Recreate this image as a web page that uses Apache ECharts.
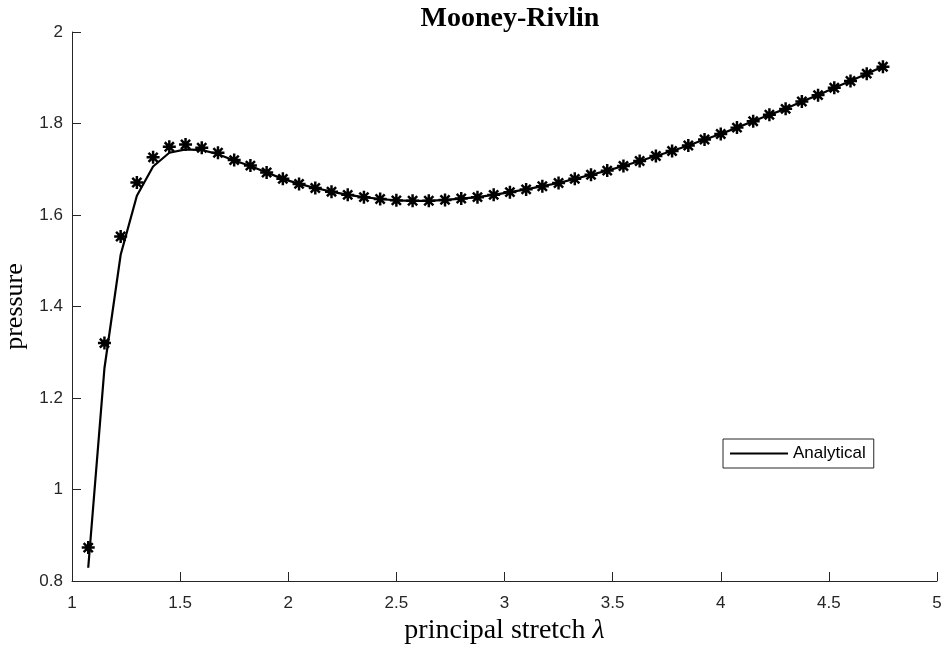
<!DOCTYPE html>
<html>
<head>
<meta charset="utf-8">
<script src="https://cdn.jsdelivr.net/npm/echarts@6/dist/echarts.min.js"></script>
<style>
html,body{margin:0;padding:0;background:#fff;}
#chart{width:946px;height:652px;}
</style>
</head>
<body>
<div id="chart"></div>
<script>
var stretch = [1.075,1.15,1.225,1.3,1.375,1.45,1.525,1.6,1.675,1.75,1.825,1.9,1.975,2.05,2.125,2.2,2.275,2.35,2.425,2.5,2.575,2.65,2.725,2.8,2.875,2.95,3.025,3.1,3.175,3.25,3.325,3.4,3.475,3.55,3.625,3.7,3.775,3.85,3.925,4.0,4.075,4.15,4.225,4.3,4.375,4.45,4.525,4.6,4.675,4.75];
var numericalPressure = [0.873,1.320,1.553,1.671,1.726,1.749,1.754,1.747,1.736,1.720,1.708,1.693,1.679,1.668,1.659,1.651,1.644,1.639,1.635,1.632,1.631,1.631,1.633,1.636,1.639,1.644,1.650,1.656,1.663,1.670,1.679,1.688,1.697,1.707,1.718,1.729,1.740,1.752,1.765,1.777,1.791,1.805,1.819,1.832,1.848,1.862,1.878,1.893,1.909,1.924];
var analyticalPressure = [0.829,1.265,1.513,1.642,1.706,1.736,1.7435,1.742,1.733,1.719,1.707,1.693,1.679,1.668,1.659,1.651,1.644,1.639,1.635,1.632,1.631,1.631,1.633,1.636,1.639,1.644,1.650,1.656,1.663,1.670,1.679,1.688,1.697,1.707,1.718,1.729,1.740,1.752,1.765,1.777,1.791,1.805,1.819,1.832,1.848,1.862,1.878,1.893,1.909,1.924];
var xTicks = [1,1.5,2,2.5,3,3.5,4,4.5,5];
var yTicks = [0.8,1,1.2,1.4,1.6,1.8,2];

function pairs(xs, ys){ return xs.map(function(x,i){ return [x, ys[i]]; }); }

var asterisk = 'path://M-1.9,-10L1.9,-10L1.9,10L-1.9,10Z' +
  'M-10,-1.9L10,-1.9L10,1.9L-10,1.9Z' +
  'M-8.4,-5.7L-5.7,-8.4L8.4,5.7L5.7,8.4Z' +
  'M-8.4,5.7L5.7,-8.4L8.4,-5.7L-5.7,8.4Z';

var serif = '"Liberation Serif", "Times New Roman", serif';
var sans = '"Liberation Sans", Arial, Helvetica, sans-serif';

var chart = echarts.init(document.getElementById('chart'), null, {renderer:'canvas'});
var axisColor = '#262626';
chart.setOption({
  animation: false,
  backgroundColor: '#ffffff',
  title: {
    text: 'Mooney-Rivlin',
    left: 505, top: 0, textAlign: 'center',
    textStyle: {fontFamily: serif, fontWeight: 'bold', fontSize: 28, color: '#000'}
  },
  grid: {left: 72, right: 9, top: 32, bottom: 71, containLabel: false, outerBoundsMode: 'none'},
  legend: {
    data: [{name: 'Analytical', icon: 'path://M0,0L58,0L58,2.2L0,2.2Z'}],
    left: 723, top: 439,
    orient: 'vertical',
    itemWidth: 58, itemHeight: 2.2,
    padding: [6, 8, 6, 7],
    borderColor: axisColor, borderWidth: 1,
    backgroundColor: '#fff',
    selectedMode: false,
    textStyle: {fontFamily: sans, fontSize: 17, color: '#000'}
  },
  xAxis: {
    type: 'value', min: xTicks[0], max: xTicks[xTicks.length-1], interval: 0.5,
    name: 'principal stretch {l|\u03bb}', nameLocation: 'middle', nameGap: 36,
    nameTextStyle: {fontFamily: serif, fontSize: 28, color: '#000',
      rich: {l: {fontFamily: serif, fontSize: 28, fontStyle: 'italic', color: '#000'}}},
    axisLine: {show: true, lineStyle: {color: axisColor, width: 1}},
    axisTick: {show: true, inside: true, length: 9, lineStyle: {color: axisColor}},
    axisLabel: {fontFamily: sans, fontSize: 17, color: axisColor, margin: 14, showMinLabel: true, showMaxLabel: true},
    splitLine: {show: false}
  },
  yAxis: {
    type: 'value', min: yTicks[0], max: yTicks[yTicks.length-1], interval: 0.2,
    name: 'pressure', nameLocation: 'middle', nameGap: 39,
    nameTextStyle: {fontFamily: serif, fontSize: 26, color: '#000'},
    axisLine: {show: true, lineStyle: {color: axisColor, width: 1}},
    axisTick: {show: true, inside: true, length: 9, lineStyle: {color: axisColor}},
    axisLabel: {fontFamily: sans, fontSize: 17, color: axisColor, margin: 9, showMinLabel: true, showMaxLabel: true,
      formatter: function(v){ return String(Math.round(v*10)/10); }},
    splitLine: {show: false}
  },
  series: [
    {
      name: 'Analytical', type: 'line', data: pairs(stretch, analyticalPressure),
      symbol: 'none', smooth: false,
      lineStyle: {color: '#000', width: 2.2},
      itemStyle: {color: '#000'},
      z: 2
    },
    {
      name: 'Numerical', type: 'scatter', data: pairs(stretch, numericalPressure),
      symbol: asterisk, symbolSize: 13,
      itemStyle: {color: '#000', opacity: 1},
      z: 3
    }
  ]
});
</script>
</body>
</html>
